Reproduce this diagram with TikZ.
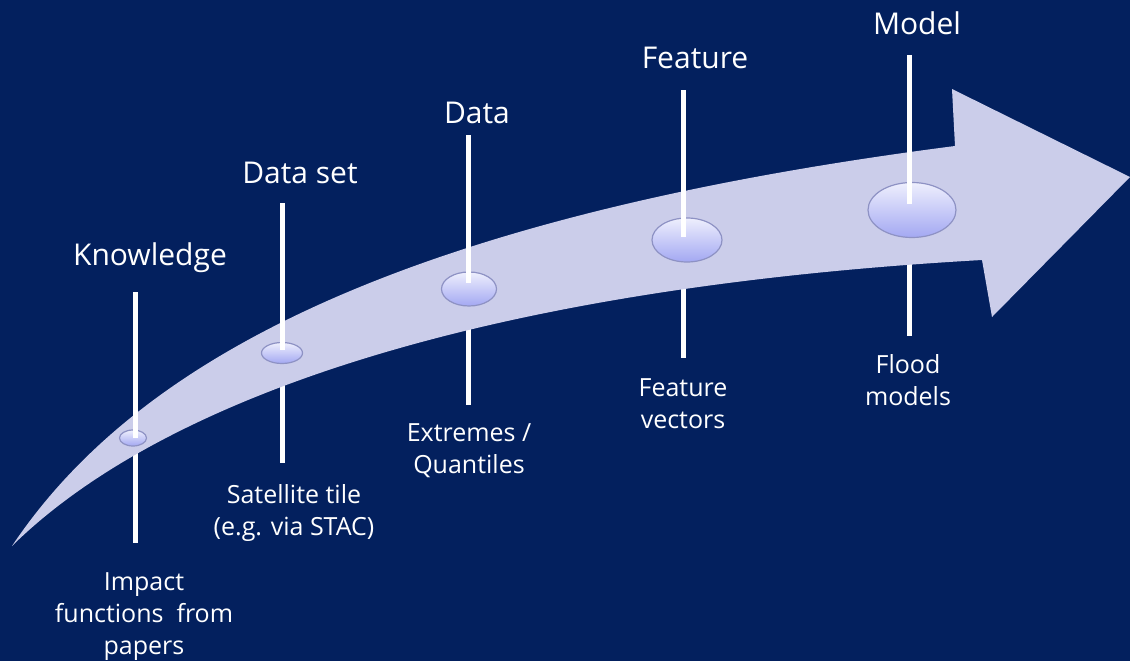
\documentclass[tikz,border=0pt]{standalone}
\usepackage{fontspec}
\setmainfont{Open Sans}
\usetikzlibrary{shapes.geometric,calc}
\definecolor{navy}{HTML}{03205E}
\definecolor{band}{HTML}{CBCDEA}
\definecolor{bubtop}{HTML}{EEEFFD}
\definecolor{bubbot}{HTML}{A3A8F2}
\definecolor{bubedge}{HTML}{8E92C4}
\tikzset{
  stage/.style={text=white,inner sep=0pt,font=\fontsize{30}{36}\selectfont},
  note/.style={text=white,inner sep=0pt,align=center,font=\fontsize{25}{32}\selectfont},
  bub/.style={ellipse,draw=bubedge,line width=1.2pt,top color=bubtop,bottom color=bubbot,inner sep=0pt},
  stem/.style={draw=white,line width=5pt},
}
\begin{document}
\begin{tikzpicture}[x=1pt,y=-1pt]
\fill[navy] (0,0) rectangle (1130,661);
\useasboundingbox (0,0) rectangle (1130,661);
% stage labels
\node[stage] (kn) at (150,258) {Knowledge};
\node[stage] (ds) at (300,173) {Data set};
\node[stage] (da) at (477,113) {Data};
\node[stage] (fe) at (695,58) {Feature};
\node[stage] (mo) at (917,23) {Model};
% notes below
\node[note] (kn-n) at (144,617) {Impact\\functions~~from\\papers};
\node[note] (ds-n) at (294,513) {Satellite tile\\(e.g. via STAC)};
\node[note] (da-n) at (469,451) {Extremes /\\Quantiles};
\node[note] (fe-n) at (683,404) {Feature\\vectors};
\node[note] (mo-n) at (908,380) {Flood\\models};
% stem ends
\coordinate (kn-t) at (135,292); \coordinate (kn-d) at (135,543);
\coordinate (ds-t) at (282,203); \coordinate (ds-d) at (282,463);
\coordinate (da-t) at (468,135); \coordinate (da-d) at (468,405);
\coordinate (fe-t) at (683,90);  \coordinate (fe-d) at (683,358);
\coordinate (mo-t) at (909,55);  \coordinate (mo-d) at (909,336);
% lower stems, under the band
\coordinate (kn-c) at (135,438); \coordinate (ds-c) at (282,354);
\coordinate (da-c) at (468,289); \coordinate (fe-c) at (683,240);
\coordinate (mo-c) at (909,210);
\draw[stem] (kn-c) -- (kn-d); \draw[stem] (ds-c) -- (ds-d);
\draw[stem] (da-c) -- (da-d); \draw[stem] (fe-c) -- (fe-d);
\draw[stem] (mo-c) -- (mo-d);
% the curved arrow
\fill[band] (12,546) .. controls (130,370) and (380,220) .. (955,146)
  -- (952,89) -- (1130,177) -- (992,317) -- (982,260)
  .. controls (450,290) and (150,410) .. cycle;
% bubbles
\node[bub,minimum width=27pt,minimum height=16pt] (kn-b) at (133,438) {};
\node[bub,minimum width=41pt,minimum height=21pt] (ds-b) at (282,353) {};
\node[bub,minimum width=55pt,minimum height=34pt] (da-b) at (469,289) {};
\node[bub,minimum width=70pt,minimum height=44pt] (fe-b) at (687,240) {};
\node[bub,minimum width=88pt,minimum height=55pt] (mo-b) at (912,210) {};
% upper stems
\draw[stem] (kn-t) -- (kn-c); \draw[stem] (ds-t) -- ($(ds-c)+(0,-4)$);
\draw[stem] (da-t) -- ($(da-c)+(0,-6)$); \draw[stem] (fe-t) -- ($(fe-c)+(0,-3)$);
\draw[stem] (mo-t) -- ($(mo-c)+(0,-6)$);
\end{tikzpicture}
\end{document}
